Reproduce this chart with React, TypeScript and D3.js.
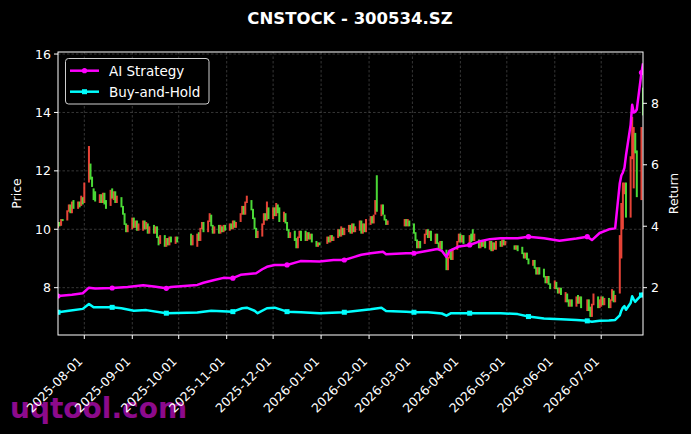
import React, { useEffect } from "react";
import * as d3 from "d3";

const title = "CNSTOCK - 300534.SZ";
const startDate = "2025-07-15";
const endDate = "2026-07-28";

// exchange closed on these weekdays
const holidays = [
  "2025-10-01", "2025-10-02", "2025-10-03", "2025-10-06", "2025-10-07", "2025-10-08",
  "2026-01-01", "2026-01-02",
  "2026-02-16", "2026-02-17", "2026-02-18", "2026-02-19", "2026-02-20", "2026-02-23",
  "2026-04-06",
  "2026-05-01", "2026-05-04", "2026-05-05",
  "2026-06-19",
];

// [open, close] per trading day
const candles: [number, number][] = [
  // 2025-07
  [10.05, 10.25], [10.25, 10.1], [10.12, 10.35], [10.35, 10.28],
  [10.3, 10.65], [10.6, 10.85], [10.85, 10.55], [10.55, 10.95], [11.0, 10.7],
  [10.7, 10.95], [10.95, 10.75], [10.8, 11.15], [11.1, 10.85],
  // 2025-08
  [10.9, 11.6], [11.6, 12.85], [12.25, 11.7], [11.8, 11.45], [11.4, 11.0], [11.3, 10.95],
  [10.9, 11.2], [11.2, 10.9], [10.9, 11.25], [11.25, 10.85], [11.0, 10.7],
  [10.8, 11.35], [11.4, 11.05], [11.0, 11.3], [11.3, 10.9], [10.9, 11.15],
  [11.1, 10.75], [10.8, 10.5], [10.55, 10.15], [10.2, 9.9], [9.9, 10.15],
  // 2025-09
  [10.0, 10.4], [10.4, 10.05], [10.05, 10.3], [10.3, 9.95], [9.95, 10.2],
  [9.95, 10.3], [10.3, 10.0], [10.0, 10.25], [10.2, 9.85], [9.85, 10.1],
  [10.15, 9.85], [9.85, 10.1], [10.1, 9.7], [9.75, 9.45], [9.5, 9.8],
  [9.8, 9.4], [9.4, 9.7], [9.7, 9.45], [9.45, 9.75], [9.75, 9.55],
  [9.5, 9.75], [9.75, 9.55],
  // 2025-10
  [9.85, 9.45], [9.45, 9.8],
  [9.4, 9.85], [9.9, 9.6], [9.6, 10.05], [10.0, 10.25], [10.25, 9.9],
  [9.9, 10.3], [10.25, 10.55], [10.5, 10.1], [10.15, 9.85], [9.85, 10.1],
  [10.15, 9.85], [9.85, 10.15], [10.1, 9.9], [9.9, 10.15], [10.15, 9.95],
  // 2025-11
  [9.95, 10.2], [10.2, 10.0], [10.0, 10.3], [10.3, 10.05], [10.05, 10.25],
  [10.25, 10.55], [10.5, 10.8], [10.8, 10.5], [10.5, 10.95], [10.9, 11.15],
  [11.0, 10.65], [10.7, 10.35], [10.4, 10.0], [10.05, 9.7], [9.7, 9.95],
  [9.75, 10.2], [10.15, 10.55], [10.55, 10.3], [10.3, 10.95], [10.75, 10.35],
  // 2025-12
  [10.35, 10.75], [10.75, 10.45], [10.45, 10.9], [10.85, 10.55], [10.75, 10.25],
  [10.25, 10.6], [10.55, 10.2], [10.25, 9.95], [10.0, 9.7], [9.7, 9.9],
  [9.95, 9.6], [9.7, 9.35], [9.35, 9.75], [9.7, 9.95], [9.95, 9.6],
  [9.95, 9.6], [9.6, 9.9], [9.9, 9.65], [9.65, 9.85], [9.85, 9.55],
  [9.6, 9.4], [9.4, 9.55], [9.55, 9.45],
  // 2026-01
  [9.5, 9.75], [9.75, 9.55], [9.55, 9.8], [9.8, 9.6], [9.6, 9.75],
  [9.7, 10.0], [10.0, 9.75], [9.75, 10.1], [10.05, 9.8], [9.8, 10.05],
  [9.9, 10.15], [10.15, 9.85], [9.85, 10.2], [10.2, 9.9], [9.9, 10.1],
  [9.95, 10.3], [10.3, 9.85], [9.85, 10.2], [10.2, 9.9], [9.9, 10.35],
  // 2026-02
  [10.15, 10.45], [10.45, 10.2], [10.2, 10.5], [10.5, 11.0], [11.85, 10.6],
  [10.45, 10.85], [10.85, 10.5], [10.5, 10.3], [10.35, 10.15], [10.15, 10.3],
  [10.1, 10.35], [10.35, 10.1], [10.1, 10.35], [10.3, 10.1],
  // 2026-03
  [10.2, 9.85], [9.9, 9.6], [9.65, 9.35], [9.35, 9.6], [9.6, 9.35],
  [9.5, 9.85], [9.8, 10.0], [10.0, 9.7], [9.7, 9.95], [9.95, 9.6],
  [9.5, 9.85], [9.85, 9.5], [9.55, 9.3], [9.3, 9.6], [9.6, 9.3],
  [9.3, 8.6], [8.6, 9.05], [9.0, 9.3], [9.3, 8.95], [8.95, 9.35],
  [9.3, 9.6], [9.55, 9.85],
  // 2026-04
  [9.85, 9.55], [9.55, 9.8], [9.8, 9.5],
  [9.5, 9.8], [9.85, 9.55], [10.0, 9.6], [9.6, 9.85],
  [9.65, 9.35], [9.35, 9.6], [9.6, 9.4], [9.4, 9.6], [9.6, 9.35],
  [9.3, 9.6], [9.6, 9.25], [9.25, 9.55], [9.55, 9.3], [9.3, 9.6],
  [9.6, 9.4], [9.4, 9.65], [9.65, 9.45], [9.45, 9.6],
  // 2026-05
  [9.45, 9.3], [9.3, 9.45], [9.45, 9.25],
  [9.4, 9.15], [9.2, 9.0], [9.0, 9.2], [9.2, 8.95], [9.0, 8.8],
  [8.75, 8.95], [8.95, 8.65], [8.7, 8.45], [8.45, 8.7], [8.7, 8.45],
  [8.65, 8.35], [8.4, 8.15], [8.15, 8.4], [8.4, 8.1], [8.15, 7.95],
  // 2026-06
  [7.95, 8.25], [8.2, 7.95], [8.0, 7.8], [7.8, 8.0], [8.0, 7.75],
  [7.5, 7.85], [7.8, 7.5], [7.6, 7.35], [7.35, 7.6], [7.6, 7.35],
  [7.35, 7.7], [7.75, 7.45], [7.45, 7.7], [7.7, 7.3],
  [7.2, 7.6], [7.6, 7.2], [7.35, 7.0], [7.0, 7.45], [7.4, 7.8],
  [7.7, 7.3], [7.3, 7.6],
  // 2026-07
  [7.35, 7.7], [7.7, 7.4], [7.4, 7.65],
  [7.65, 7.3], [7.3, 7.6], [7.55, 7.95], [7.9, 7.5], [7.5, 7.75],
  [7.8, 9.8], [9.0, 10.9], [10.0, 11.6], [11.2, 11.6], [11.6, 10.4],
  [10.4, 12.5], [12.4, 13.85], [11.4, 13.5], [13.3, 12.6], [12.7, 11.1],
  [11.0, 13.5], [14.85, 13.9],
];

const aiStrategy: [string, number][] = [
  ["2025-07-15", 1.73], ["2025-07-24", 1.77], ["2025-07-31", 1.82], ["2025-08-04", 2.0],
  ["2025-08-08", 1.97], ["2025-08-19", 1.99], ["2025-08-29", 2.02], ["2025-09-08", 2.08],
  ["2025-09-15", 2.04], ["2025-09-23", 1.98], ["2025-09-26", 2.02], ["2025-10-13", 2.09],
  ["2025-10-17", 2.16], ["2025-10-24", 2.25], ["2025-10-30", 2.32], ["2025-11-05", 2.31],
  ["2025-11-10", 2.42], ["2025-11-20", 2.47], ["2025-11-24", 2.6], ["2025-11-27", 2.68],
  ["2025-12-02", 2.74], ["2025-12-10", 2.74], ["2025-12-17", 2.84], ["2025-12-19", 2.87],
  ["2025-12-31", 2.85], ["2026-01-09", 2.9], ["2026-01-16", 2.9], ["2026-01-21", 2.98],
  ["2026-01-27", 3.07], ["2026-02-02", 3.12], ["2026-02-10", 3.17], ["2026-02-12", 3.09],
  ["2026-02-25", 3.12], ["2026-03-02", 3.12], ["2026-03-11", 3.2], ["2026-03-17", 3.26],
  ["2026-03-20", 3.2], ["2026-03-23", 3.0], ["2026-03-25", 3.2], ["2026-03-31", 3.34],
  ["2026-04-07", 3.39], ["2026-04-13", 3.5], ["2026-04-20", 3.58], ["2026-04-27", 3.61],
  ["2026-05-08", 3.61], ["2026-05-15", 3.66], ["2026-05-25", 3.61], ["2026-06-04", 3.53],
  ["2026-06-15", 3.6], ["2026-06-22", 3.66], ["2026-06-25", 3.55], ["2026-06-30", 3.78],
  ["2026-07-06", 3.9], ["2026-07-10", 3.93], ["2026-07-13", 5.4], ["2026-07-14", 5.65],
  ["2026-07-15", 5.75], ["2026-07-16", 5.9], ["2026-07-17", 6.3], ["2026-07-20", 7.3],
  ["2026-07-21", 7.95], ["2026-07-22", 7.7], ["2026-07-23", 7.72], ["2026-07-24", 7.8],
  ["2026-07-27", 9.0], ["2026-07-28", 9.3],
];

const buyAndHold: [string, number][] = [
  ["2025-07-15", 1.2], ["2025-07-22", 1.25], ["2025-07-31", 1.31], ["2025-08-04", 1.47],
  ["2025-08-07", 1.36], ["2025-08-19", 1.36], ["2025-08-25", 1.33], ["2025-09-02", 1.25],
  ["2025-09-10", 1.27], ["2025-09-23", 1.17], ["2025-10-13", 1.19], ["2025-10-22", 1.25],
  ["2025-11-05", 1.22], ["2025-11-11", 1.33], ["2025-11-14", 1.35], ["2025-11-19", 1.25],
  ["2025-11-21", 1.17], ["2025-11-27", 1.33], ["2025-12-02", 1.35], ["2025-12-10", 1.22],
  ["2025-12-19", 1.2], ["2025-12-31", 1.17], ["2026-01-16", 1.2], ["2026-01-23", 1.24],
  ["2026-02-02", 1.3], ["2026-02-09", 1.35], ["2026-02-12", 1.24], ["2026-02-25", 1.22],
  ["2026-03-02", 1.2], ["2026-03-11", 1.2], ["2026-03-20", 1.16], ["2026-03-23", 1.09],
  ["2026-03-26", 1.17], ["2026-04-07", 1.17], ["2026-04-27", 1.17], ["2026-05-08", 1.14],
  ["2026-05-15", 1.06], ["2026-05-25", 1.0], ["2026-06-05", 0.97], ["2026-06-15", 0.95],
  ["2026-06-22", 0.92], ["2026-06-25", 0.89], ["2026-06-30", 0.92], ["2026-07-06", 0.93],
  ["2026-07-10", 0.95], ["2026-07-13", 1.1], ["2026-07-14", 1.25], ["2026-07-15", 1.35],
  ["2026-07-16", 1.4], ["2026-07-17", 1.28], ["2026-07-20", 1.5], ["2026-07-21", 1.72],
  ["2026-07-22", 1.62], ["2026-07-23", 1.54], ["2026-07-24", 1.6], ["2026-07-27", 1.76],
  ["2026-07-28", 1.83],
];

const priceTicks = [8, 10, 12, 14, 16];
const returnTicks = [2, 4, 6, 8];
const markEvery = 25;

const W = 691;
const H = 434;
const m = { top: 52, right: 48, bottom: 99, left: 58 };
const font = "DejaVu Sans, sans-serif";
const upColor = "#ff4a3d";
const downColor = "#52f03c";
const aiColor = "#ff00ff";
const bhColor = "#00ffff";

const parse = d3.timeParse("%Y-%m-%d");
const fmt = d3.timeFormat("%Y-%m-%d");

const App: React.FC = () => {
  useEffect(() => {
    document.body.style.margin = "0";
    document.body.style.background = "#000";
  }, []);

  const x0 = m.left;
  const x1 = W - m.right;
  const y0 = m.top;
  const y1 = H - m.bottom;

  const x = d3.scaleTime().domain([parse(startDate)!, parse(endDate)!]).range([x0, x1]);
  const yPrice = d3.scaleLinear().domain([6.38, 16.07]).range([y1, y0]);
  const yRet = d3.scaleLinear().domain([0.46, 9.67]).range([y1, y0]);

  const days = d3.timeDay
    .range(parse(startDate)!, d3.timeDay.offset(parse(endDate)!, 1))
    .filter(d => d.getDay() !== 0 && d.getDay() !== 6 && !holidays.includes(fmt(d)));

  const monthTicks = d3.timeMonth.range(parse("2025-08-01")!, parse("2026-07-02")!);

  const line = d3
    .line<[string, number]>()
    .x(d => x(parse(d[0])!))
    .y(d => yRet(d[1]));

  const markerPts = (series: [string, number][]) =>
    days
      .filter((_, i) => i % markEvery === 0)
      .map(d => series.find(p => p[0] === fmt(d)))
      .filter((p): p is [string, number] => !!p);

  const n = Math.min(days.length, candles.length);

  return (
    <svg width={W} height={H} style={{ display: "block", background: "#000" }} fontFamily={font}>
      <defs>
        <clipPath id="plot">
          <rect x={x0} y={y0} width={x1 - x0} height={y1 - y0} />
        </clipPath>
      </defs>
      <rect width={W} height={H} fill="#000" />

      {/* watermark */}
      <text x={10} y={418} fontSize={28} fontWeight="bold" fill="#8c0a8c">
        uqtool.com
      </text>

      <text x={350} y={24} textAnchor="middle" fontSize={16.5} fontWeight="bold" fill="#fff">
        {title}
      </text>

      {/* grid */}
      <g stroke="#5a5a5a" strokeWidth={0.6} strokeDasharray="2.5,2">
        {monthTicks.map(t => (
          <line key={fmt(t)} x1={x(t)} x2={x(t)} y1={y0} y2={y1} />
        ))}
        {priceTicks.map(t => (
          <line key={t} x1={x0} x2={x1} y1={yPrice(t)} y2={yPrice(t)} />
        ))}
      </g>

      {/* candles */}
      <g clipPath="url(#plot)">
        {d3.range(n).map(i => {
          const [o, c] = candles[i];
          const top = yPrice(Math.max(o, c));
          const bot = yPrice(Math.min(o, c));
          return (
            <rect
              key={i}
              x={x(days[i]) - 1}
              y={top}
              width={2}
              height={Math.max(1, bot - top)}
              fill={c >= o ? upColor : downColor}
              opacity={0.9}
            />
          );
        })}
      </g>

      {/* strategy lines */}
      <g clipPath="url(#plot)" fill="none" strokeWidth={2.5} strokeLinejoin="round">
        <path d={line(buyAndHold) || ""} stroke={bhColor} />
        {markerPts(buyAndHold).map(p => (
          <rect key={p[0]} x={x(parse(p[0])!) - 2.5} y={yRet(p[1]) - 2.5} width={5} height={5} fill={bhColor} stroke="none" />
        ))}
        <path d={line(aiStrategy) || ""} stroke={aiColor} />
        {markerPts(aiStrategy).map(p => (
          <circle key={p[0]} cx={x(parse(p[0])!)} cy={yRet(p[1])} r={2.6} fill={aiColor} stroke="none" />
        ))}
      </g>

      {/* spines */}
      <rect x={x0} y={y0} width={x1 - x0} height={y1 - y0} fill="none" stroke="#fff" strokeWidth={1} />

      {/* left axis */}
      <g fill="#fff" fontSize={12.5}>
        {priceTicks.map(t => (
          <g key={t}>
            <line x1={x0 - 4} x2={x0} y1={yPrice(t)} y2={yPrice(t)} stroke="#fff" />
            <text x={x0 - 7} y={yPrice(t) + 4.5} textAnchor="end">{t}</text>
          </g>
        ))}
        <text transform={`translate(21, ${(y0 + y1) / 2}) rotate(-90)`} textAnchor="middle" fontSize={12.5}>
          Price
        </text>
      </g>

      {/* right axis */}
      <g fill="#fff" fontSize={12.5}>
        {returnTicks.map(t => (
          <g key={t}>
            <line x1={x1} x2={x1 + 4} y1={yRet(t)} y2={yRet(t)} stroke="#fff" />
            <text x={x1 + 8} y={yRet(t) + 4.5}>{t}</text>
          </g>
        ))}
        <text transform={`translate(678, ${(y0 + y1) / 2}) rotate(-90)`} textAnchor="middle" fontSize={12.5}>
          Return
        </text>
      </g>

      {/* x axis */}
      <g fill="#fff" fontSize={12.5}>
        {monthTicks.map(t => (
          <g key={fmt(t)}>
            <line x1={x(t)} x2={x(t)} y1={y1} y2={y1 + 4} stroke="#fff" />
            <text transform={`translate(${x(t) - 1}, ${y1 + 27}) rotate(-45)`} textAnchor="end">
              {fmt(t)}
            </text>
          </g>
        ))}
      </g>

      {/* legend */}
      <g>
        <rect x={65.5} y={58.5} width={143.5} height={45.5} rx={3} fill="#000" stroke="#cfcfcf" strokeWidth={1} />
        <line x1={70} x2={99} y1={70.7} y2={70.7} stroke={aiColor} strokeWidth={2.5} />
        <circle cx={84.5} cy={70.7} r={2.6} fill={aiColor} />
        <text x={109} y={75.5} fill="#fff" fontSize={13.5}>AI Strategy</text>
        <line x1={70} x2={99} y1={91.7} y2={91.7} stroke={bhColor} strokeWidth={2.5} />
        <rect x={82} y={89.2} width={5} height={5} fill={bhColor} />
        <text x={109} y={96.5} fill="#fff" fontSize={13.5}>Buy-and-Hold</text>
      </g>
    </svg>
  );
};

export default App;
